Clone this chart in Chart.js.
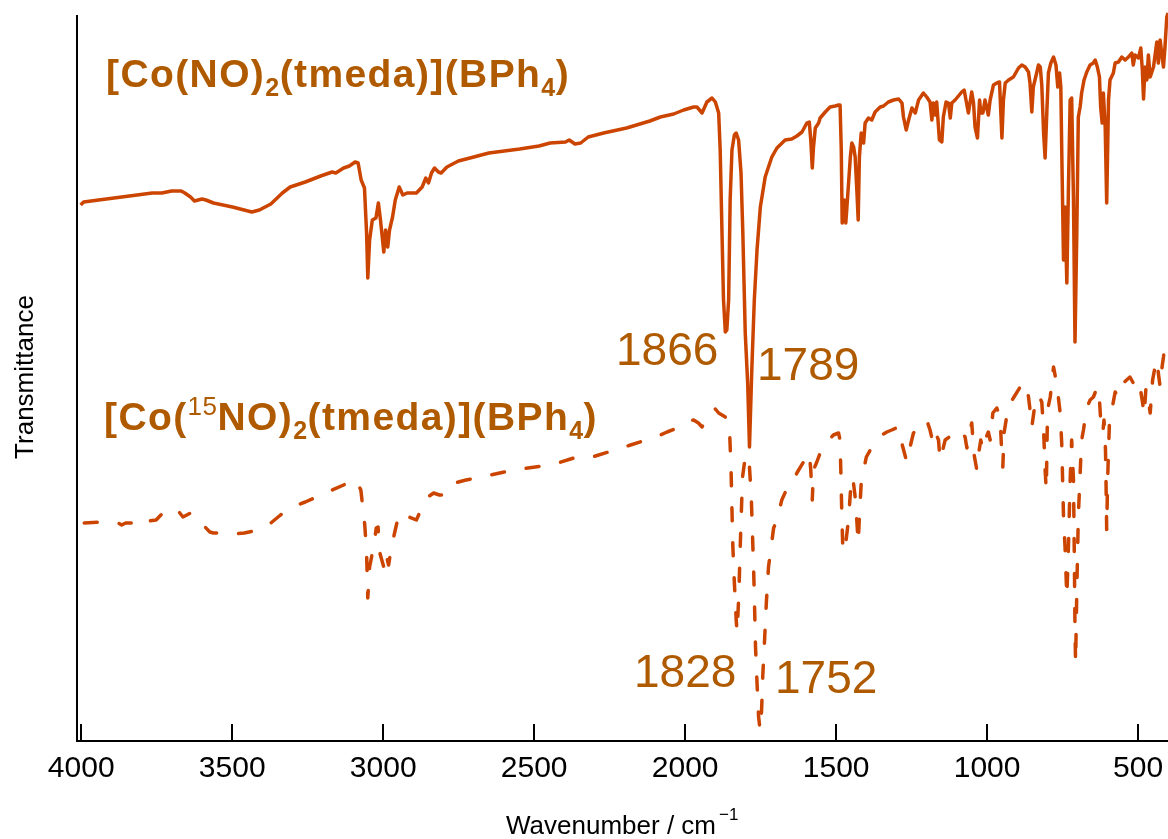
<!DOCTYPE html>
<html><head><meta charset="utf-8">
<script src="https://cdn.jsdelivr.net/npm/chart.js@4.4.1/dist/chart.umd.min.js"></script>
<style>html,body{margin:0;padding:0;background:#fff;overflow:hidden}canvas{display:block}</style>
</head><body>
<canvas id="c" width="1168" height="839"></canvas>
<script>
// x-axis tick labels (wavenumber, cm-1)
const tickValues = [4000, 3500, 3000, 2500, 2000, 1500, 1000, 500];

// [Co(NO)2(tmeda)](BPh4) — solid trace (wavenumber, transmittance a.u.)
const wavenumber14N = [4002,3992,3942,3866,3815,3765,3733,3701,3669,3657,3638,3625,3600,3587,3562,3499,3435,3410,3372,3334,3308,3258,3207,3169,3157,3131,3112,3093,3083,3073,3062,3055,3051,3045,3036,3024,3016,3009,2998,2992,2985,2979,2969,2960,2947,2935,2921,2890,2871,2859,2850,2840,2830,2817,2808,2789,2751,2700,2650,2599,2548,2484,2447,2396,2384,2365,2346,2321,2270,2194,2117,2082,
2038,2005,1972,1961,1944,1928,1911,1900,1889,1884,1878,1873,1867,1862,1856,1851,1845,1837,1831,1823,1815,1809,1801,1793,1787,1779,1771,1762,1751,1735,1713,1696,1669,1647,1630,1613,1597,1589,1584,1579,1575,1569,1558,1553,1536,1520,1503,1492,1487,1483,1480,1473,1468,1462,1453,1448,1442,1437,1431,1427,1423,1417,1409,1404,1393,1382,1371,1354,1343,1327,1310,1293,1282,1277,1268,1260,1249,1238,1227,1211,1200,1189,1183,1178,1172,1167,1158,1150,1145,1136,1128,1122,1117,1106,1084,1076,1070,1062,1051,1045,1040,1032,1025,1021,1014,1007,996,990,979,968,959,951,946,940,929,913,896,885,874,863,858,852,847,836,830,824,819,813,808,802,797,789,780,772,766,760,756,752,747,742,736,731,725,720,714,709,703,698,692,687,679,670,659,648,642,635,628,624,619,615,609,604,598,593,582,576,565,554,543,532,521,516,510,499,491,486,482,477,471,466,460,449,438,433,427,422,416,411,405,401];
const transmittance14N = [536,539,541,544,546,548,548,550,550,548,544,540,542,541,538,534,529,531,537,548,554,559,565,569,568,573,575,579,578,561,553,508,463,501,521,523,538,521,489,511,494,511,524,541,554,546,548,548,554,563,558,568,573,569,568,574,580,584,588,590,592,595,598,599,601,597,598,604,608,613,620,624,
627,631,634,634,628,639,643,639,628,591,508,441,409,411,441,541,591,606,608,601,568,508,408,358,294,374,441,491,534,564,584,593,601,602,605,609,618,619,601,573,594,613,618,623,629,634,635,636,636,591,518,541,518,544,584,598,594,584,548,521,584,608,598,618,623,621,629,634,635,639,641,642,638,624,611,621,633,628,641,648,644,639,621,638,626,639,601,599,624,639,638,623,638,641,649,651,641,628,649,638,614,603,641,628,628,641,626,641,656,658,659,603,641,658,661,664,673,676,674,669,658,629,654,668,676,674,656,608,583,631,668,678,684,676,654,668,654,574,481,534,458,548,641,643,541,399,508,624,634,648,661,669,676,678,681,674,664,634,618,648,614,538,641,661,668,678,679,684,681,684,688,676,686,683,693,671,642,674,661,686,664,674,699,678,701,688,674,694,724,728];

// [Co(15NO)2(tmeda)](BPh4) — dashed trace
const wavenumber15N = [3990,3929,3878,3866,3853,3828,3815,3802,3752,3733,3720,3688,3676,3663,3638,3619,3574,3562,3536,3498,3460,3410,3372,3340,3308,3258,3220,3169,3131,3099,3087,3074,3061,3055,3051,3045,3032,3023,3017,3011,2998,2992,2982,2973,2960,2947,2890,2871,2852,2833,2814,2795,2764,2726,2675,2599,2548,2472,2422,2358,2308,2232,2181,2118,2082,
2060,2016,1989,1972,1956,1944,1917,1900,1889,1878,1862,1853,1848,1845,1842,1837,1831,1828,1822,1818,1814,1810,1801,1793,1787,1781,1777,1773,1770,1767,1762,1757,1752,1747,1743,1737,1731,1724,1707,1696,1680,1665,1647,1630,1608,1589,1584,1579,1575,1564,1553,1542,1525,1509,1492,1487,1484,1481,1478,1472,1467,1459,1450,1445,1437,1431,1427,1423,1417,1409,1400,1387,1365,1349,1332,1316,1293,1288,1266,1260,1244,1233,1200,1189,1183,1178,1161,1156,1147,1139,1125,1111,1100,1089,1073,1067,1056,1051,1043,1034,1029,1021,1014,1007,996,990,981,968,957,951,948,944,929,913,880,869,863,855,852,841,830,819,813,808,804,800,791,780,772,767,758,753,750,747,742,736,731,725,720,714,711,709,707,703,698,692,687,681,670,659,648,635,628,624,617,613,608,606,604,601,595,587,576,565,549,538,527,516,504,493,485,480,474,466,460,452,444,438,433,427,422,416,411,403];
const transmittance15N = [218,219,218,216,218,218,222,219,221,227,224,225,229,224,228,223,209,208,208,207,208,211,218,226,233,239,244,251,256,262,259,251,216,188,143,174,194,213,214,188,174,188,176,194,211,228,221,234,244,248,246,246,258,261,264,269,272,275,278,284,284,291,296,302,306,
309,314,320,321,318,314,329,332,328,326,323,311,271,231,194,158,121,109,148,191,228,264,284,286,274,244,206,169,133,94,58,25,11,30,65,101,139,174,213,221,241,251,258,268,279,288,271,241,271,279,288,293,301,306,308,301,264,224,194,189,201,221,261,264,244,218,198,224,258,271,284,291,301,306,309,311,314,304,279,288,308,311,321,311,303,313,301,281,291,301,304,308,311,311,304,293,311,318,286,271,286,301,291,301,309,301,328,333,324,284,274,308,336,343,359,353,344,324,314,338,346,339,311,271,251,331,344,374,361,351,328,298,261,224,194,144,191,261,301,261,178,111,78,151,224,268,301,311,333,341,344,354,341,321,308,321,291,254,211,261,318,331,349,344,358,361,364,358,363,353,338,326,353,341,328,361,374,381,368,354,371,384,398,401];

// band labels
const peakLabels14N = ['1866', '1789'];
const peakLabels15N = ['1828', '1752'];
const compound14N = [['[Co(NO)', 'b'], ['2', 'sub'], ['(tmeda)](BPh', 'b'], ['4', 'sub'], [')', 'b']];
const compound15N = [['[Co(', 'b'], ['15', 'sup'], ['NO)', 'b'], ['2', 'sub'], ['(tmeda)](BPh', 'b'], ['4', 'sub'], [')', 'b']];

const FAMILY = '"Liberation Sans", Arial, Helvetica, sans-serif';
const LINE = '#CC4500';
const TEXT = '#B05A00';

function pts(xs, ys) { return xs.map((x, i) => ({x: x, y: ys[i]})); }

function drawRuns(ctx, x, y, runs) {
  for (const [txt, kind] of runs) {
    let dy = 0, spacing = 1.4;
    if (kind === 'b') ctx.font = 'bold 39px ' + FAMILY;
    else if (kind === 'sub') { ctx.font = 'bold 25px ' + FAMILY; dy = 9; spacing = 0.5; }
    else { ctx.font = '26px ' + FAMILY; dy = -15; spacing = 0.5; }
    for (const ch of txt) {
      ctx.fillText(ch, x, y + dy);
      x += ctx.measureText(ch).width + spacing;
    }
  }
}

const decor = {
  id: 'decor',
  beforeDatasetsDraw(chart) {
    const {ctx, chartArea, scales: {x}} = chart;
    ctx.save();
    ctx.strokeStyle = '#000';
    ctx.lineWidth = 2;
    for (const t of x.ticks) {
      const px = Math.round(x.getPixelForValue(t.value));
      ctx.beginPath();
      ctx.moveTo(px, chartArea.bottom);
      ctx.lineTo(px, chartArea.bottom - 17);
      ctx.stroke();
    }
    ctx.restore();
  },
  afterDraw(chart) {
    const {ctx} = chart;
    ctx.save();
    ctx.fillStyle = TEXT;
    ctx.textBaseline = 'alphabetic';
    ctx.textAlign = 'left';
    drawRuns(ctx, 106, 87, compound14N);
    drawRuns(ctx, 104, 430, compound15N);
    ctx.font = '46px ' + FAMILY;
    ctx.fillText(peakLabels14N[0], 616, 365);
    ctx.fillText(peakLabels14N[1], 757, 380);
    ctx.fillText(peakLabels15N[0], 634, 687);
    ctx.fillText(peakLabels15N[1], 775, 693);
    // axis titles
    ctx.fillStyle = '#000';
    ctx.font = '26px ' + FAMILY;
    const main = 'Wavenumber / cm';
    ctx.fillText(main, 506, 834);
    const w = ctx.measureText(main).width;
    ctx.font = '17px ' + FAMILY;
    ctx.fillText('\u22121', 506 + w + 3, 820);
    ctx.translate(33, 377);
    ctx.rotate(-Math.PI / 2);
    ctx.textAlign = 'center';
    ctx.font = '26px ' + FAMILY;
    ctx.fillText('Transmittance', 0, 0);
    ctx.restore();
  }
};

new Chart(document.getElementById('c'), {
  type: 'line',
  data: {
    datasets: [
      {data: pts(wavenumber14N, transmittance14N), borderColor: LINE, borderWidth: 3.5, pointRadius: 0, tension: 0, clip: false, fill: false, borderJoinStyle: 'round'},
      {data: pts(wavenumber15N, transmittance15N), borderColor: LINE, borderWidth: 3.5, pointRadius: 0, tension: 0, clip: false, fill: false, borderDash: [13, 22], borderCapStyle: 'round', borderJoinStyle: 'round'}
    ]
  },
  options: {
    responsive: false,
    animation: false,
    devicePixelRatio: 1,
    layout: {padding: {top: 16, right: 0, bottom: 0, left: 0}},
    plugins: {legend: {display: false}, tooltip: {enabled: false}},
    scales: {
      x: {
        type: 'linear', reverse: true, min: 401, max: 4014,
        afterBuildTicks: s => { s.ticks = tickValues.map(v => ({value: v})); },
        afterFit: s => { s.height = 98; s.paddingLeft = 0; s.paddingRight = 0; },
        grid: {display: false, drawTicks: false},
        border: {display: true, color: '#000', width: 2},
        ticks: {padding: 10, color: '#000', maxRotation: 0, autoSkip: false, font: {family: FAMILY, size: 30}, callback: v => String(v)}
      },
      y: {
        type: 'linear', min: 0, max: 725,
        afterFit: s => { s.width = 77; s.paddingTop = 0; s.paddingBottom = 0; },
        grid: {display: false, drawTicks: false},
        border: {display: true, color: '#000', width: 2},
        ticks: {display: false}
      }
    }
  },
  plugins: [decor]
});
</script>
</body></html>
